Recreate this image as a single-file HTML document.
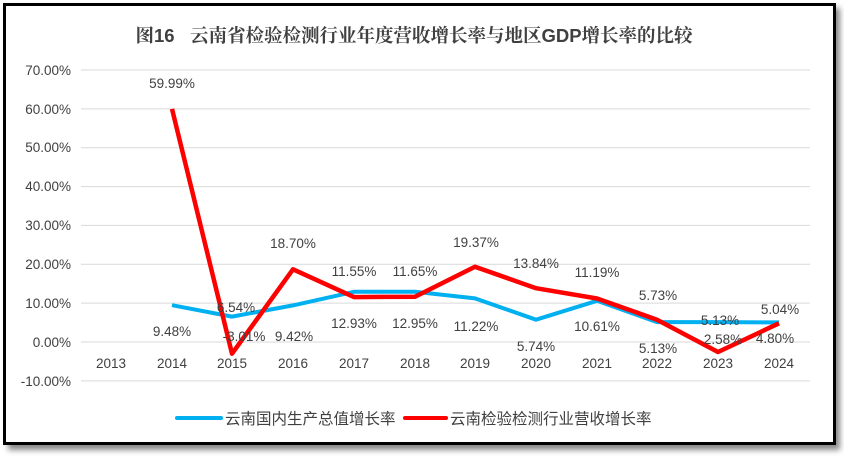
<!DOCTYPE html>
<html><head><meta charset="utf-8"><style>
body{margin:0;background:#fff;width:844px;height:457px;overflow:hidden}
svg text{font-family:"Liberation Sans","Noto Sans CJK SC",sans-serif;fill:#404040}
</style></head><body>
<svg width="844" height="457" viewBox="0 0 844 457" xmlns="http://www.w3.org/2000/svg">
<defs><filter id="sh" x="-5%" y="-5%" width="115%" height="115%"><feGaussianBlur stdDeviation="3"/></filter></defs>
<rect x="8" y="8" width="832" height="442" fill="#888" filter="url(#sh)"/>
<rect x="4.5" y="4.5" width="830" height="439" fill="#fff" stroke="#000" stroke-width="3"/>
<text x="414" y="42" text-anchor="middle" font-size="18.5" font-weight="bold" style="fill:#404040;font-family:'Liberation Sans','Noto Serif CJK SC',serif;white-space:pre">图16   云南省检验检测行业年度营收增长率与地区GDP增长率的比较</text>
<g stroke="#d9d9d9" stroke-width="1">
<line x1="81" x2="810" y1="70" y2="70"/><line x1="81" x2="810" y1="108.9" y2="108.9"/>
<line x1="81" x2="810" y1="147.7" y2="147.7"/><line x1="81" x2="810" y1="186.6" y2="186.6"/>
<line x1="81" x2="810" y1="225.4" y2="225.4"/><line x1="81" x2="810" y1="264.3" y2="264.3"/>
<line x1="81" x2="810" y1="303.1" y2="303.1"/><line x1="81" x2="810" y1="342" y2="342"/>
<line x1="81" x2="810" y1="380.9" y2="380.9"/>
</g>
<g font-size="13.5" text-anchor="end">
<text x="71" y="75">70.00%</text><text x="71" y="114">60.00%</text><text x="71" y="152">50.00%</text>
<text x="71" y="191">40.00%</text><text x="71" y="230">30.00%</text><text x="71" y="269">20.00%</text>
<text x="71" y="308">10.00%</text><text x="71" y="347">0.00%</text><text x="71" y="386">-10.00%</text>
</g>
<g font-size="13.5" text-anchor="middle">
<text x="111" y="368">2013</text><text x="172" y="368">2014</text><text x="232" y="368">2015</text>
<text x="293" y="368">2016</text><text x="354" y="368">2017</text><text x="415" y="368">2018</text>
<text x="475" y="368">2019</text><text x="536" y="368">2020</text><text x="597" y="368">2021</text>
<text x="657" y="368">2022</text><text x="718" y="368">2023</text><text x="779" y="368">2024</text>
</g>
<polyline fill="none" stroke="#00b0f0" stroke-width="4" stroke-linejoin="round" points="172,305.2 232,316.6 293,305.4 354,291.8 415,291.7 475,298.4 536,319.7 597,300.8 657,322.1 718,322.1 779,322.4"/>
<polyline fill="none" stroke="#ff0000" stroke-width="4.5" stroke-linejoin="round" points="172,108.9 232,353.7 293,269.3 354,297.1 415,296.7 475,266.7 536,288.2 597,298.5 657,319.7 718,352 779,323.3"/>
<g font-size="13.5" text-anchor="middle">
<text x="172" y="88">59.99%</text>
<text x="172" y="336">9.48%</text>
<text x="236" y="312">6.54%</text><text x="244" y="341">-3.01%</text>
<text x="293" y="248">18.70%</text><text x="294" y="341">9.42%</text>
<text x="354" y="276">11.55%</text><text x="354" y="328">12.93%</text>
<text x="415" y="276">11.65%</text><text x="415" y="328">12.95%</text>
<text x="476" y="247">19.37%</text><text x="476" y="331">11.22%</text>
<text x="536" y="268">13.84%</text><text x="536" y="351">5.74%</text>
<text x="597" y="277">11.19%</text><text x="597" y="331">10.61%</text>
<text x="658" y="300">5.73%</text><text x="658" y="353">5.13%</text>
<text x="720" y="325">5.13%</text><text x="723" y="344">2.58%</text>
<text x="780" y="314">5.04%</text><text x="775" y="343">4.80%</text>
</g>
<line x1="177" x2="221" y1="418" y2="418" stroke="#00b0f0" stroke-width="4" stroke-linecap="round"/>
<text x="225" y="424" font-size="15.5">云南国内生产总值增长率</text>
<line x1="405" x2="446" y1="418" y2="418" stroke="#ff0000" stroke-width="4" stroke-linecap="round"/>
<text x="450" y="424" font-size="15.5">云南检验检测行业营收增长率</text>
</svg>
</body></html>
